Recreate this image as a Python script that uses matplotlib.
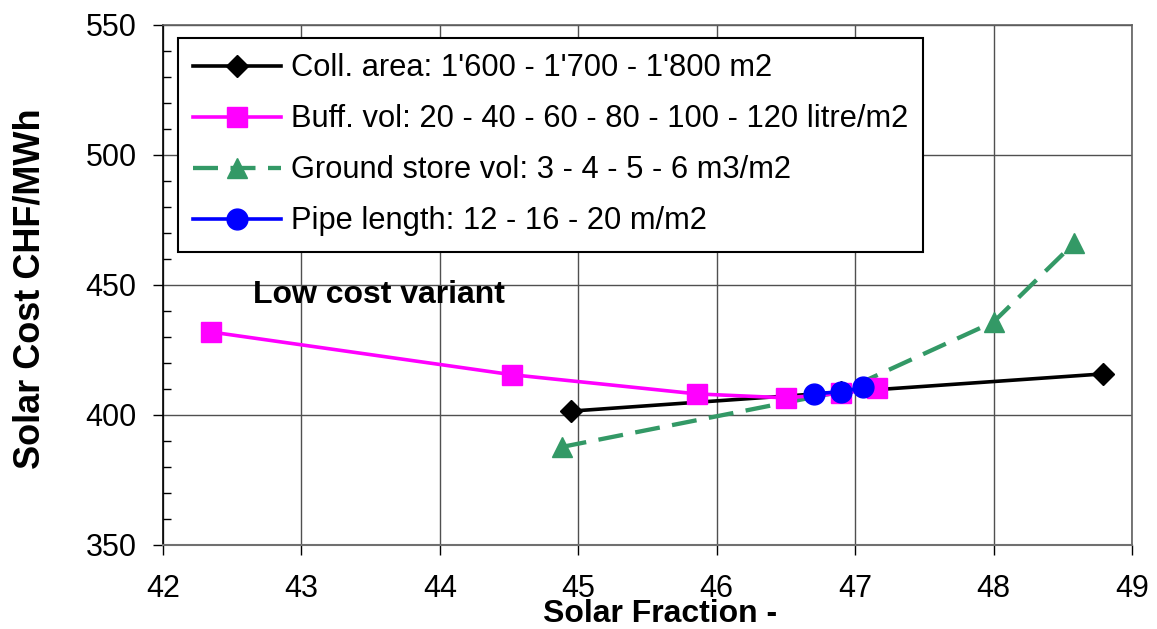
import matplotlib
matplotlib.use("Agg")
import matplotlib.pyplot as plt
from matplotlib.ticker import MultipleLocator

plt.rcParams['font.family'] = ['Liberation Sans', 'DejaVu Sans']
plt.rcParams['lines.scale_dashes'] = False

# Data
coll_x = [44.95, 46.90, 48.79]
coll_y = [401.5, 408.8, 415.8]
buff_x = [42.35, 44.52, 45.86, 46.50, 46.90, 47.16]
buff_y = [431.9, 415.5, 408.1, 406.6, 408.3, 410.4]
ground_x = [44.88, 46.90, 48.00, 48.58]
ground_y = [387.7, 409.0, 435.8, 466.0]
pipe_x = [46.70, 46.90, 47.06]
pipe_y = [408.1, 409.0, 410.6]

labels = ["Coll. area: 1'600 - 1'700 - 1'800 m2",
          "Buff. vol: 20 - 40 - 60 - 80 - 100 - 120 litre/m2",
          "Ground store vol: 3 - 4 - 5 - 6 m3/m2",
          "Pipe length: 12 - 16 - 20 m/m2"]
annotation = "Low cost variant"
x_ticks = [42, 43, 44, 45, 46, 47, 48, 49]
y_ticks = [350, 400, 450, 500, 550]

W, H = 1157, 629
fig = plt.figure(figsize=(W / 100, H / 100), dpi=100)
ax = fig.add_axes([163 / W, 1 - 545 / H, (1132 - 163) / W, (545 - 25) / H])

l1, = ax.plot(coll_x, coll_y, color='black', lw=2.6, marker='D', ms=11.5,
              zorder=3, label=labels[0])
l2, = ax.plot(buff_x, buff_y, color='#FF00FF', lw=2.6, marker='s', ms=15,
              zorder=5, label=labels[1])
l3, = ax.plot(ground_x, ground_y, color='#339966', lw=3.1, marker='^', ms=15,
              dashes=(18, 9), zorder=4, label=labels[2])
l4, = ax.plot(pipe_x, pipe_y, color='#0000FF', lw=2.6, marker='o', ms=15,
              zorder=6, label=labels[3])

ax.set_xlim(42, 49)
ax.set_ylim(350, 550)
ax.set_xticks(x_ticks)
ax.set_yticks(y_ticks)
ax.yaxis.set_minor_locator(MultipleLocator(10))
ax.grid(True, which='major', color='#505050', lw=1.0, zorder=0)
ax.set_axisbelow(True)

ax.tick_params(axis='both', which='major', labelsize=22, direction='out',
               length=7, width=1, color='black')
ax.tick_params(axis='x', which='major', pad=14)
ax.tick_params(axis='y', which='major', pad=12)
ax.tick_params(axis='y', which='minor', direction='in', length=6, width=1,
               color='black')
ax.tick_params(axis='x', which='minor', length=0)

for s in ['top', 'right']:
    ax.spines[s].set_color('#606060')
    ax.spines[s].set_linewidth(1.2)
ax.spines['bottom'].set_color('#707070')
ax.spines['bottom'].set_linewidth(1.5)
ax.spines['left'].set_color('black')
ax.spines['left'].set_linewidth(1.2)

ax.text(42.65, 446, annotation, fontsize=23, fontweight='bold',
        ha='left', va='center')

fig.text(660 / W, 1 - 622 / H, "Solar Fraction -", fontsize=23,
         fontweight='bold', ha='center', va='baseline')
fig.text(30 / W, 1 - 289 / H, "Solar Cost CHF/MWh", fontsize=26,
         fontweight='bold', ha='center', va='center', rotation=90)

leg = ax.legend(handles=[l1, l2, l3, l4], loc='upper left',
                bbox_to_anchor=(178 / W, 1 - 38 / H),
                bbox_transform=fig.transFigure, fontsize=22.2,
                frameon=True, fancybox=False, framealpha=1,
                edgecolor='black', handlelength=2.85, handletextpad=0.3,
                labelspacing=0.68, borderpad=0.5, borderaxespad=0)
leg.get_frame().set_linewidth(1.5)
leg.set_zorder(10)

fig.savefig('out.png', dpi=100)
